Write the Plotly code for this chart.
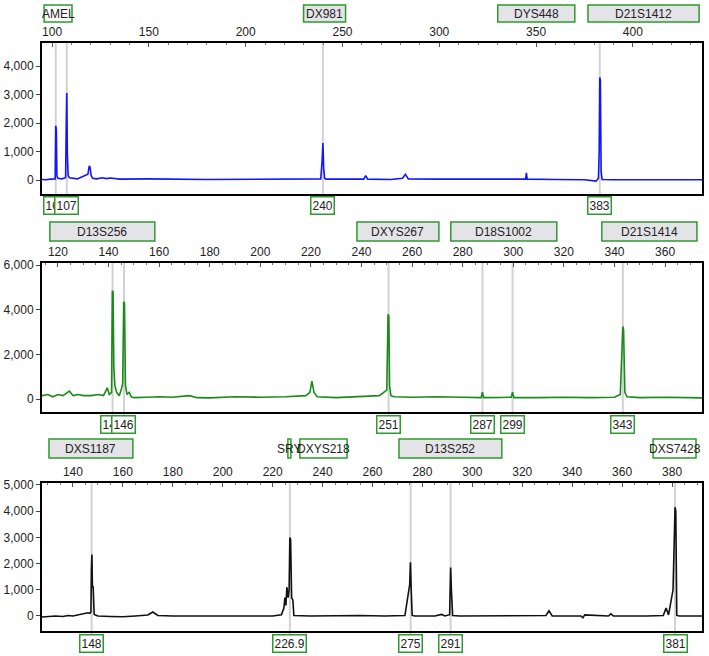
import plotly.graph_objects as go

W, H = 709, 656

# ---------------- data ----------------
# Panel 1 (blue dye)
blue_size = [94.8, 97, 99, 100.5, 101.6, 101.9, 102.2, 102.5, 103, 105, 106.5, 107.0, 107.3, 107.6, 107.9, 108.3, 109,
             111, 113, 115, 117, 118.5, 119.2, 119.6, 120.2, 121, 123, 126, 128, 130, 135, 150, 180, 200, 220, 235,
             238.8, 239.5, 239.9, 240.3, 240.8, 241.5, 250, 261, 262, 263, 275, 281, 282.5, 284, 300, 330, 344.6,
             345, 345.4, 360, 375, 381.0, 382.2, 382.6, 382.9, 383.2, 383.6, 384.1, 390, 410, 435.7]
blue_rfu = [20, 10, 30, 40, 40, 1900, 1750, 150, 60, 40, 60, 80, 1800, 3050, 950, 150, 80,
            50, 40, 100, 150, 200, 500, 450, 150, 60, 40, 80, 50, 70, 30, 40, 20, 30, 40, 30,
            40, 700, 1300, 400, 60, 30, 20, 30, 150, 30, 20, 60, 200, 40, 30, 20, 30,
            250, 30, 20, 10, -40, 60, 1000, 3600, 3500, 300, 20, 10, 10, 10]

# Panel 2 (green dye)
green_size = [113.7, 116, 118, 120, 122, 123.5, 124.5, 126, 128, 130, 133, 136, 138, 139.5, 140.3, 141.2, 141.5, 141.8,
              142.1, 142.5, 143.2, 144.2, 145.0, 145.6, 146.0, 146.3, 146.7, 147.3, 148.2, 149, 150, 155, 160, 165,
              172, 175, 180, 190, 200, 210, 218, 219.6, 220.4, 221.2, 222.5, 230, 240, 247, 250.0, 250.5, 250.8,
              251.1, 251.6, 253, 260, 270, 280, 287.3, 287.8, 288.3, 295, 299.2, 299.7, 300.2, 310, 320, 330, 340,
              342.3, 342.8, 343.3, 343.6, 344.1, 345, 350, 360, 374.6]
green_rfu = [150, 200, 100, 200, 150, 250, 350, 150, 200, 150, 150, 200, 150, 500, 200, 300, 4850, 4800,
             1400, 600, 300, 150, 400, 700, 4350, 4300, 600, 200, 300, 100, 60, 80, 100, 80,
             150, 60, 50, 100, 80, 100, 150, 300, 800, 300, 100, 60, 100, 150, 400, 3800, 3700,
             600, 150, 100, 80, 100, 80, 60, 300, 60, 70, 80, 300, 60, 60, 80, 60, 80,
             200, 1500, 3250, 3100, 300, 100, 60, 80, 50]

# Panel 3 (black dye)
black_size = [127.6, 130, 133, 136, 138, 140, 142, 144, 145, 146, 146.8, 147.2, 147.4, 147.6, 147.8, 148.1, 148.5,
              150, 155, 160, 165, 170, 172, 174, 180, 190, 200, 210, 220, 223.5, 224.5, 224.9, 225.3, 225.7, 226.2,
              226.6, 226.9, 227.2, 227.6, 228.1, 228.5, 235, 245, 255, 265, 273, 274.9, 275.2, 275.5, 275.9, 277,
              285, 287.7, 289, 290.9, 291.3, 291.6, 292.1, 295, 310, 329.5, 330.7, 332, 343.5, 344.3, 345, 354.5,
              355.5, 356.5, 370, 376.5, 377.6, 378.6, 380.4, 380.8, 381.2, 381.5, 381.9, 383, 392]
black_rfu = [-40, -30, 0, -20, 20, 0, 40, 60, 80, 120, 100, 150, 1800, 2350, 1100, 1100, 60,
             0, -20, -30, 0, 40, 150, 20, 0, 10, 0, 0, 0, 50, 300, 700, 400, 1100, 700,
             1000, 3000, 2900, 700, 600, 20, 0, 10, 20, 0, 20, 1200, 2050, 1000, 20, 0,
             0, 60, 0, 50, 1850, 1000, 20, 0, 0, 20, 200, 0, 0, -70, 40, 0,
             80, 0, 0, 20, 300, 40, 1000, 2400, 4150, 4000, 20, 0, 0]

# locus bins (name, start, end) per panel
loci_1 = [("AMEL", 95.9, 110.3), ("DX981", 229.9, 251.6), ("DYS448", 330.2, 370.0), ("D21S1412", 376.8, 434.2)]
loci_2 = [("D13S256", 116.8, 158.3), ("DXYS267", 238.2, 270.6), ("D18S1002", 275.3, 317.2), ("D21S1414", 335.0, 372.6)]
loci_3 = [("DXS1187", 130.4, 164.0), ("SRY", 226.1, 227.3), ("DXYS218", 230.9, 249.8),
          ("D13S252", 270.6, 311.8), ("DXS7428", 372.4, 389.6)]

# called alleles (label, size) per panel
calls_1 = [("102", 101.9), ("107", 107.6), ("240", 239.9), ("383", 382.9)]
calls_2 = [("142", 141.6), ("146", 146.1), ("251", 250.7), ("287", 287.8), ("299", 299.7), ("343", 343.3)]
calls_3 = [("148", 147.5), ("226.9", 226.9), ("275", 275.3), ("291", 291.3), ("381", 381.2)]

# axis settings
x_ranges = [[94.8, 435.7], [113.7, 374.6], [127.6, 392.0]]
x_ticks = [list(range(100, 401, 50)), list(range(120, 361, 20)), list(range(140, 381, 20))]
x_minor = [10, 5, 5]
y_ranges = [[-491, 4807], [-582, 6090], [-573, 5076]]
y_ticks = [[0, 1000, 2000, 3000, 4000], [0, 2000, 4000, 6000], [0, 1000, 2000, 3000, 4000, 5000]]

# ---------------- layout geometry (pixels) ----------------
X0, X1 = 42, 702
panels_px = [(43, 194), (263, 412), (483, 631)]   # plot top, bottom
locus_px = [(5, 22), (222, 241), (439, 458)]       # locus box top, bottom
call_px = [206, 424, 643]                          # peak label centre
white_fill = {"AMEL", "SRY", "DXYS218", "DXS7428"}

def py(p):
    return 1 - p / H

def px(p):
    return p / W

colors = ["#1414ff", "#1a8a1a", "#111111"]
sizes = [blue_size, green_size, black_size]
rfus = [blue_rfu, green_rfu, black_rfu]
loci = [loci_1, loci_2, loci_3]
calls = [calls_1, calls_2, calls_3]

fig = go.Figure()
shapes, annotations = [], []
FONT = "Liberation Sans, Arial, sans-serif"
GREEN = "#2e9a2e"

for i in range(3):
    xa = "x" if i == 0 else f"x{i+1}"
    ya = "y" if i == 0 else f"y{i+1}"
    top, bot = panels_px[i]
    fig.add_trace(go.Scatter(x=sizes[i], y=rfus[i], mode="lines",
                             line=dict(color=colors[i], width=1.6),
                             xaxis=xa, yaxis=ya, showlegend=False, hoverinfo="x+y"))
    lay_x = dict(domain=[px(X0), px(X1)], range=x_ranges[i], side="top", anchor=ya,
                 tickvals=x_ticks[i], ticks="inside", ticklen=4, tickcolor="#555",
                 showline=True, linecolor="black", linewidth=2, mirror=True,
                 showgrid=False, zeroline=False, automargin=False,
                 tickfont=dict(family=FONT, size=12, color="#222"),
                 minor=dict(dtick=x_minor[i], ticks="inside", ticklen=2, tickcolor="#777", showgrid=False))
    lay_y = dict(domain=[py(bot), py(top)], range=y_ranges[i], anchor=xa,
                 tickvals=y_ticks[i], tickformat=",d", ticks="outside", ticklen=4,
                 showline=True, linecolor="black", linewidth=2, mirror=True,
                 showgrid=False, zeroline=False, automargin=False,
                 tickfont=dict(family=FONT, size=12, color="#222"))
    fig.update_layout(**{("xaxis" if i == 0 else f"xaxis{i+1}"): lay_x,
                         ("yaxis" if i == 0 else f"yaxis{i+1}"): lay_y})

    # locus bins
    lt, lb = locus_px[i]
    for name, s0, s1 in loci[i]:
        shapes.append(dict(type="rect", xref=xa, yref="paper", x0=s0, x1=s1, y0=py(lb), y1=py(lt),
                           fillcolor="white" if name in white_fill else "#e4e4e8",
                           line=dict(color=GREEN, width=1.5), layer="above"))
        annotations.append(dict(x=(s0 + s1) / 2, y=py((lt + lb) / 2), xref=xa, yref="paper",
                                text=name, showarrow=False, xanchor="center", yanchor="middle",
                                font=dict(family=FONT, size=12, color="#222")))
    # allele calls: guide line + label
    cy = call_px[i]
    for lab, s in calls[i]:
        shapes.append(dict(type="line", xref=xa, yref="paper", x0=s, x1=s, y0=py(cy - 8), y1=py(top),
                           line=dict(color="#d2d2d6", width=2), layer="below"))
    for lab, s in calls[i]:
        annotations.append(dict(x=s, y=py(cy), xref=xa, yref="paper", text=lab, showarrow=False,
                                xanchor="center", yanchor="middle", bgcolor="white",
                                bordercolor=GREEN, borderwidth=1.5, borderpad=1,
                                font=dict(family=FONT, size=12, color="#222")))

fig.update_layout(width=W, height=H, margin=dict(l=0, r=0, t=0, b=0, autoexpand=False),
                  paper_bgcolor="white", plot_bgcolor="rgba(0,0,0,0)",
                  shapes=shapes, annotations=annotations, showlegend=False)

fig.write_html("out.html", config={"displayModeBar": False},
               post_script="document.body.style.margin='0';document.body.style.overflow='hidden';")
